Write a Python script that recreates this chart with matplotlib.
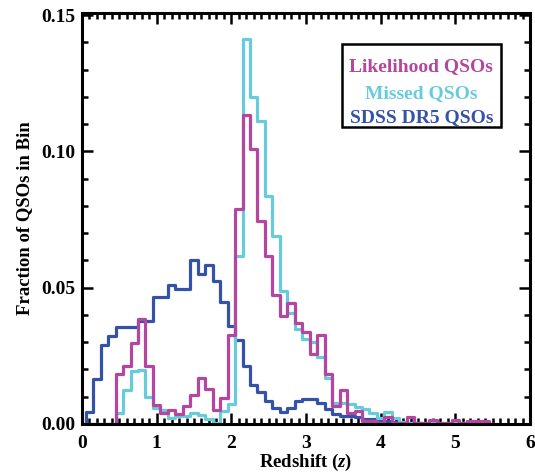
import numpy as np
import matplotlib.pyplot as plt
from matplotlib.patches import Rectangle

# Redshift bin centres (bin width 0.1)
z = np.round(np.arange(0.0, 5.55, 0.1), 1)

sdss_dr5 = [0.0, 0.0044, 0.0165, 0.0290, 0.0324, 0.0357, 0.0355, 0.0355, 0.0378, 0.0378,
            0.0467, 0.0467, 0.0510, 0.0495, 0.0495, 0.0603, 0.0551, 0.0585, 0.0523, 0.0446,
            0.0358, 0.0308, 0.0211, 0.0143, 0.0119, 0.0085, 0.0059, 0.0045, 0.0059, 0.0085,
            0.0090, 0.0093, 0.0078, 0.0055, 0.0035, 0.0030, 0.0028, 0.0025, 0.0020, 0.0018,
            0.0015, 0.0012, 0.0008, 0.0005, 0.0004, 0.0003, 0.0, 0.0, 0.0, 0.0,
            0.0, 0.0, 0.0, 0.0, 0.0, 0.0]

missed = [0.0, 0.0, 0.0, 0.0, 0.0, 0.0039, 0.0123, 0.0194, 0.0198, 0.0100,
          0.0059, 0.0051, 0.0023, 0.0030, 0.0030, 0.0040, 0.0033, 0.0018, 0.0005, 0.0048,
          0.0074, 0.0618, 0.1414, 0.1198, 0.1111, 0.0837, 0.0691, 0.0488, 0.0409, 0.0348,
          0.0311, 0.0300, 0.0246, 0.0170, 0.0078, 0.0078, 0.0074, 0.0063, 0.0056, 0.0040,
          0.0023, 0.0043, 0.0022, 0.0008, 0.0005, 0.0003, 0.0002, 0.0002, 0.0002, 0.0002,
          0.0002, 0.0002, 0.0002, 0.0001, 0.0001, 0.0]

likelihood = [0.0, 0.0, 0.0, 0.0, 0.0, 0.0184, 0.0212, 0.0297, 0.0385, 0.0211,
              0.0068, 0.0042, 0.0050, 0.0036, 0.0066, 0.0108, 0.0168, 0.0127, 0.0050, 0.0095,
              0.0325, 0.0790, 0.1134, 0.1008, 0.0744, 0.0617, 0.0474, 0.0396, 0.0444, 0.0369,
              0.0337, 0.0256, 0.0326, 0.0182, 0.0066, 0.0124, 0.0040, 0.0048, 0.0010, 0.0010,
              0.0004, 0.0025, 0.0004, 0.0004, 0.0024, 0.0004, 0.0004, 0.0014, 0.0004, 0.0004,
              0.0014, 0.0004, 0.0010, 0.0010, 0.0010, 0.0]

labels = ["Likelihood QSOs", "Missed QSOs", "SDSS DR5 QSOs"]
colors = ["#B4469F", "#66CCDD", "#3452A8"]

plt.rcParams['font.family'] = ['Liberation Serif', 'DejaVu Serif']
plt.rcParams['font.weight'] = 'bold'
plt.rcParams['mathtext.fontset'] = 'custom'
plt.rcParams['mathtext.rm'] = 'Liberation Serif:bold'
plt.rcParams['mathtext.it'] = 'Liberation Serif:italic'

fig = plt.figure(figsize=(5.35, 4.72), dpi=100)
ax = fig.add_axes([0.1533, 0.1017, 0.8374, 0.8708])

ax.step(z, sdss_dr5, where='mid', color=colors[2], lw=2.3)
ax.step(z, missed, where='mid', color=colors[1], lw=2.3)
ax.step(z, likelihood, where='mid', color=colors[0], lw=2.3)

ax.set_xlim(0, 6)
ax.set_ylim(0, 0.1508)
ax.set_xticks(np.arange(0, 7, 1))
ax.set_xticks(np.arange(0, 6.01, 0.1), minor=True)
ax.set_yticks([0.0, 0.05, 0.10, 0.15])
ax.set_yticks(np.arange(0, 0.151, 0.01), minor=True)
ax.set_yticklabels(["0.00", "0.05", "0.10", "0.15"])
ax.tick_params(which='both', direction='in', top=True, right=True, width=1.8,
               labelsize=14)
ax.tick_params(which='major', length=8)
ax.tick_params(axis='x', which='major', pad=8)
ax.tick_params(axis='y', which='major', pad=5)
ax.tick_params(which='minor', length=4)
for s in ax.spines.values():
    s.set_linewidth(2.2)

ax.set_xlabel("Redshift ($z$)", fontsize=13.5, fontweight='bold', labelpad=0)
ax.set_ylabel("Fraction of QSOs in Bin", fontsize=13.5, fontweight='bold', labelpad=6)

# boxed colour key
ax.add_patch(Rectangle((0.580, 0.7226), 0.355, 0.202, transform=ax.transAxes,
                       fill=False, lw=1.8, ec='black', zorder=5))
for lab, c, ty in zip(labels, colors, [0.8686, 0.805, 0.7445]):
    ax.text(0.7573, ty, lab, transform=ax.transAxes, color=c,
            fontsize=14, fontweight='bold', ha='center', va='center')

fig.savefig("out.png", dpi=100)
